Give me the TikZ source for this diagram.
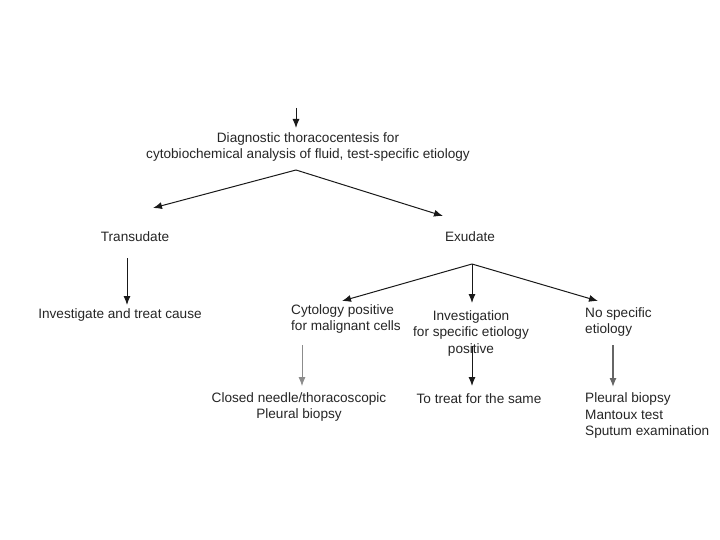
\documentclass[tikz,border=0pt]{standalone}
\usepackage{fontspec}
\setmainfont{Liberation Sans}
\usetikzlibrary{arrows.meta}
\begin{document}
\begin{tikzpicture}[x=1pt,y=-1pt,
  lbl/.style={font=\fontsize{13.6}{16.5}\selectfont, text=black!85, inner sep=0pt, align=center},
  arr/.style={-{Latex[length=9pt,width=7pt]}, line width=1pt, black!90},
  lightarr/.style={arr, black!45, line width=0.8pt},
  midarr/.style={arr, black!60, line width=1.3pt}]
\useasboundingbox[fill=white] (0,0) rectangle (720,540);
% texts
\node[lbl] (diag) at (308,147) {Diagnostic thoracocentesis for\\cytobiochemical analysis of fluid, test-specific etiology};
\node[lbl] (trans) at (135,237) {Transudate};
\node[lbl] (exud) at (470,237) {Exudate};
\node[lbl] (cause) at (120,315) {Investigate and treat cause};
\node[lbl, align=left, anchor=west] (cyto) at (291,319) {Cytology positive\\for malignant cells};
\node[lbl] (invest) at (471,333) {Investigation\\for specific etiology\\positive};
\node[lbl, align=left, anchor=west] (nospec) at (585,322) {No specific\\etiology};
\node[lbl] (closed) at (299,407) {Closed needle/thoracoscopic\\Pleural biopsy};
\node[lbl] (treat) at (479,399) {To treat for the same};
\node[lbl, align=left, anchor=west] (pleural) at (585,415.5) {Pleural biopsy\\Mantoux test\\Sputum examination};
% connector points
\coordinate (top0) at (296,108);
\coordinate (top1) at (296,128);
\coordinate (s1) at (296,170);
\coordinate (tTrans) at (153,208);
\coordinate (tExud) at (443,216);
\coordinate (cTrans0) at (127,258);
\coordinate (tCause) at (127,305);
\coordinate (s2) at (472,264);
\coordinate (tCyto) at (342,301);
\coordinate (tInv) at (472,303);
\coordinate (tNo) at (598,301);
\coordinate (c0) at (302,345);
\coordinate (c1) at (302,386);
\coordinate (i0) at (472,346);
\coordinate (i1) at (472,386);
\coordinate (n0) at (613,345);
\coordinate (n1) at (613,387);
% connectors
\draw[arr] (top0) -- (top1);
\draw[arr] (s1) -- (tTrans);
\draw[arr] (s1) -- (tExud);
\draw[arr] (cTrans0) -- (tCause);
\draw[arr] (s2) -- (tCyto);
\draw[arr] (s2) -- (tInv);
\draw[arr] (s2) -- (tNo);
\draw[lightarr] (c0) -- (c1);
\draw[arr] (i0) -- (i1);
\draw[midarr] (n0) -- (n1);
\end{tikzpicture}
\end{document}
